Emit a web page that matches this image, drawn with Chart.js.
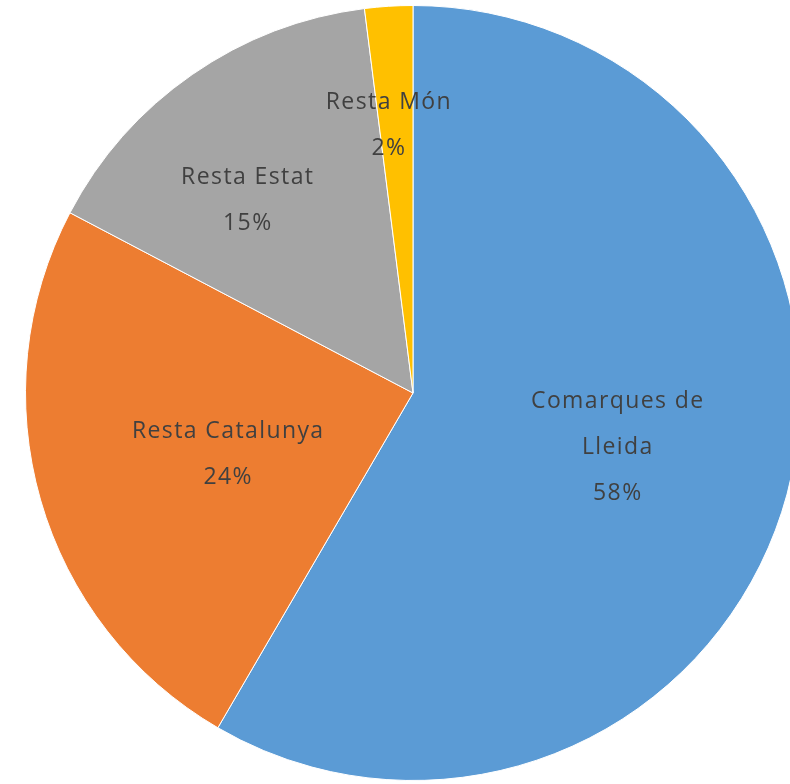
<!DOCTYPE html>
<html>
<head>
<meta charset="utf-8">
<script src="https://cdn.jsdelivr.net/npm/chart.js@4"></script>
<style>
    html, body { margin: 0; padding: 0; background: #fff; overflow: hidden; }
    #wrap { position: absolute; left: 0; top: 0; width: 826px; height: 786px; }
</style>
</head>
<body>
<div id="wrap"><canvas id="pieChart" width="826" height="786"></canvas></div>
<script>
// Chart data
const categories = [['Comarques de', 'Lleida'], ['Resta Catalunya'], ['Resta Estat'], ['Resta Món']];
const shares = [58.4, 24.3, 15.3, 2.0];
const sliceColors = ['#5B9BD5', '#ED7D31', '#A5A5A5', '#FFC000'];

// Where each label sits: fraction of radius, angle nudge in degrees
const labelPlacement = [[0.545, -1], [0.50, -1.5], [0.66, -5.5], [0.70, -1.5]];

const sliceLabels = {
    id: 'sliceLabels',
    afterDatasetsDraw(chart) {
        const ctx = chart.ctx;
        const meta = chart.getDatasetMeta(0);
        const total = shares.reduce((a, b) => a + b, 0);
        ctx.save();
        ctx.font = '23px "Open Sans", sans-serif';
        ctx.letterSpacing = '1.4px';
        ctx.fillStyle = '#404040';
        ctx.textAlign = 'center';
        ctx.textBaseline = 'middle';
        meta.data.forEach((arc, i) => {
            const [frac, nudge] = labelPlacement[i];
            const mid = (arc.startAngle + arc.endAngle) / 2 + nudge * Math.PI / 180;
            const r = arc.outerRadius * frac;
            const x = arc.x + Math.cos(mid) * r;
            const y = arc.y + Math.sin(mid) * r + 3;
            const lines = categories[i].concat([Math.round(shares[i] / total * 100) + '%']);
            const lineH = 46;
            const top = y - (lines.length - 1) * lineH / 2;
            lines.forEach((t, k) => ctx.fillText(t, x, top + k * lineH));
        });
        ctx.restore();
    }
};

new Chart(document.getElementById('pieChart').getContext('2d'), {
    type: 'pie',
    data: {
        labels: categories.map(c => c.join(' ')),
        datasets: [{
            data: shares,
            backgroundColor: sliceColors,
            borderColor: '#ffffff',
            borderWidth: 1
        }]
    },
    options: {
        responsive: false,
        animation: false,
        layout: { padding: 5 },
        plugins: {
            legend: { display: false },
            tooltip: { enabled: false }
        }
    },
    plugins: [sliceLabels]
});
</script>
</body>
</html>
